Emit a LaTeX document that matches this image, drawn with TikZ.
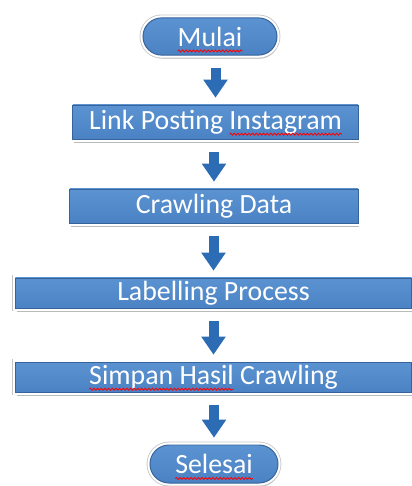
\documentclass[tikz,border=0pt]{standalone}
\usepackage{fontspec}
\setmainfont{Carlito}
\usetikzlibrary{arrows.meta,shapes.misc,shadows,decorations.pathmorphing}

\definecolor{boxblue}{HTML}{4A82C3}
\definecolor{boxtop}{HTML}{5B93D2}
\definecolor{boxedge}{HTML}{36639A}
\definecolor{arrowblue}{HTML}{2C6CB4}

% red wavy spell-check underline
\newcommand\spellerr[1]{\tikz[baseline=(w.base)]{%
    \node[rectangle, inner sep=0pt, outer sep=0pt, minimum width=0pt, minimum height=0pt] (w) {#1};
    \draw[overlay, red, line width=0.6pt, decorate, decoration={snake, amplitude=0.7pt, segment length=2.6pt}]
        ([yshift=-3.5pt]w.base west) -- ([yshift=-3.5pt]w.base east);}}

\tikzset{
    framed/.style={drop shadow={shadow xshift=1pt, shadow yshift=-2.5pt, opacity=0.45, fill=black!60},
        preaction={draw=black!22, line width=4.8pt},
        preaction={draw=white, line width=3.6pt}},
    stepbox/.style={framed, rectangle, draw=boxedge, line width=0.7pt, top color=boxtop,
        bottom color=boxblue, text=white, font=\fontsize{19.8}{23}\selectfont, inner sep=0pt},
    terminal/.style={stepbox, rounded rectangle},
    flowarrow/.style={draw=arrowblue, line width=0.25cm,
        -{Triangle[width=0.58cm, length=0.45cm]}, shorten <=0.3cm, shorten >=0.17cm}
}

\begin{document}
\begin{tikzpicture}[x=0.025cm, y=-0.025cm]
    \useasboundingbox (0,0) rectangle (412,486);

    % Start and end
    \node[terminal, minimum width=3.35cm, minimum height=0.93cm] (mulai) at (210,36.5) {\spellerr{Mulai}};
    \node[terminal, minimum width=3.2cm, minimum height=0.95cm] (selesai) at (214,464) {\spellerr{Selesai}};

    % Process steps
    \node[stepbox, minimum width=7.125cm, minimum height=0.85cm] (link) at (215.5,122)
        {Link Posting \spellerr{Instagram}};
    \node[stepbox, minimum width=7.2cm, minimum height=0.85cm] (crawl) at (214,206) {Crawling Data};
    \node[stepbox, minimum width=9.9cm, minimum height=0.75cm] (label) at (213.5,293) {Labelling Process};
    \node[stepbox, minimum width=9.9cm, minimum height=0.75cm] (simpan) at (213.5,377)
        {\spellerr{Simpan Hasil} Crawling};

    % Flow arrows
    \draw[flowarrow] (link.north |- mulai.south) -- (link.north);
    \draw[flowarrow] (crawl.north |- link.south) -- (crawl.north);
    \draw[flowarrow] (label.north |- crawl.south) -- (label.north);
    \draw[flowarrow] (simpan.north |- label.south) -- (simpan.north);
    \draw[flowarrow] (selesai.north |- simpan.south) -- (selesai.north);
\end{tikzpicture}
\end{document}
